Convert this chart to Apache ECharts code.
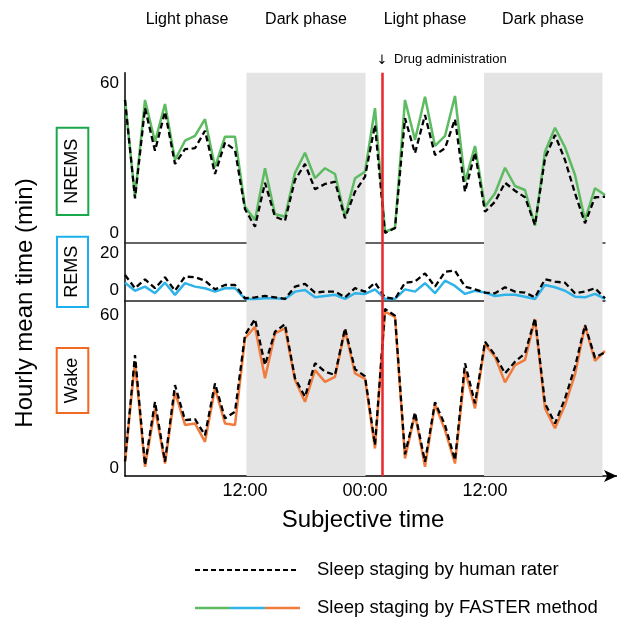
<!DOCTYPE html>
<html>
<head>
<meta charset="UTF-8">
<title>Sleep staging</title>
<script src="https://cdn.jsdelivr.net/npm/echarts@6/dist/echarts.min.js"></script>
<style>
  html, body { margin: 0; padding: 0; background: #fff; }
  #main { width: 617px; height: 621px; }
</style>
</head>
<body>
<div id="main"></div>
<script>
// hourly values, one per hour from the start of the recording (index = hour)
var nremsHuman  = [53.2,13.8,49.9,32.9,48.5,27.6,33.5,33.9,40.9,23.6,36.1,33.2,9.5,2.5,20.1,6.5,4.9,21.2,27.6,17.5,19.6,20.5,5.9,16.5,22.5,
                   43.2,0,2,45.9,31.9,47.2,31.2,33.9,45.5,16.5,32.1,8.5,12.5,20.1,16.9,14.3,3.2,29.9,39.2,29.2,15.9,3.9,14.3,14.5];
var nremsFaster = [53.2,14.5,53.2,36.5,51.6,29.2,36.9,38.8,45.5,26.3,38.5,38.5,10.5,5.2,25.9,7.6,6.5,24.1,32.1,21.9,25.9,23.6,6.5,21.9,24.5,
                   49.9,0.5,2,53.2,37.2,54.5,34.8,38.8,54.8,20.5,34.8,10.5,15.9,26.1,18.8,17.2,2.9,32.5,42.1,34.3,23.2,5.2,17.9,15.2];
var remsHuman   = [10.5,4.7,8.6,4.7,9.5,3.6,9.8,9.5,8,4.2,6.1,6.1,0.3,0.7,1.3,0.7,0,5.4,6.6,2.8,3.2,3.2,0.7,4.7,3.2,
                   7.1,0.7,0,7.1,7.6,11.2,5.4,11.9,12.4,5.4,4.2,2.8,2.5,5.1,3.2,2.8,0.7,8.6,7.6,7.1,2.5,3.2,4.7,0.3];
var remsFaster  = [7.1,3.6,5.4,2.5,7.1,1.8,6.9,5.4,4.7,3.2,4.7,4.7,0,0,0.3,0.3,0,3.2,3.9,0.7,1.3,1.8,0,2.5,2.2,
                   4.2,0,0,4.2,3.2,6.9,2.5,8,5.7,2.2,3.6,2.8,1.3,1.8,1.8,1,0,6.1,5.1,3.6,1,0.7,2.2,0];
var wakeHuman   = [2.5,44.3,1.2,26,2.5,32.5,18.8,19.2,12.9,33.2,19.5,22.1,52.2,58.4,40.4,53.5,56.4,35.2,28,41.1,37.8,36.5,54.8,38.8,36,
                   9,62.4,59.7,5.4,21.8,2.5,25.8,16.9,3.1,41.1,25.4,49.5,44.3,37.1,41.7,45,58.7,25.4,17.5,27.3,39.7,56.1,43.3,45.4];
var wakeFaster  = [2.5,41.7,0.5,23.4,1.8,29.9,16.9,17.5,10.3,31.3,17.5,16.9,50.9,55.4,35.2,52.8,54.8,34.5,26,38.4,33.8,35.8,54.1,37.1,35,
                   7.7,61.3,59.3,3.8,21.1,0.5,25,14.9,1.8,38.4,23.4,48.5,43.6,33.6,40.4,42.4,58.4,23.4,15.6,24.7,36.7,55.8,42,45.9];

// dark phases (hours), drug time, x tick labels
var darkPhases = [[12.15, 24.05], [35.9, 47.75]];
var drugHour = 25.73;
var xTickValues = [12, 24, 36];
var xTickLabels = ['12:00', '00:00', '12:00'];
var phaseLabels = ['Light phase', 'Dark phase', 'Light phase', 'Dark phase'];

var FONT = 'Liberation Sans, Arial, Helvetica, sans-serif';
var GREEN = '#5dbb61', BLUE = '#2fb3e8', ORANGE = '#f07b3d', RED = '#e8262b', GRAY = '#e4e4e4';

function pairs(arr) {
  return arr.map(function (v, i) { return [i, v]; });
}

function shade() {
  return {
    silent: true,
    itemStyle: { color: GRAY },
    data: darkPhases.map(function (p) { return [{ xAxis: p[0] }, { xAxis: p[1] }]; })
  };
}

function drugLine() {
  return {
    silent: true,
    symbol: ['none', 'none'],
    label: { show: false },
    lineStyle: { color: RED, width: 2.5, type: 'solid' },
    data: [{ xAxis: drugHour }]
  };
}

function fasterSeries(idx, data, color) {
  return {
    type: 'line', xAxisIndex: idx, yAxisIndex: idx, data: pairs(data),
    showSymbol: false, z: 3,
    lineStyle: { color: color, width: 2.5 },
    markArea: shade()
  };
}

function humanSeries(idx, data) {
  return {
    type: 'line', xAxisIndex: idx, yAxisIndex: idx, data: pairs(data),
    showSymbol: false, z: 4,
    lineStyle: { color: '#000', width: 2.3, type: [6, 3.5] },
    markLine: drugLine()
  };
}

var yLabel = { color: '#000', fontSize: 17, fontFamily: FONT, margin: 6 };

var myChart = echarts.init(document.getElementById('main'));
var option = {
  animation: false,
  backgroundColor: '#fff',
  grid: [
    { left: 125, top: 72.7, width: 480, height: 170.3 },
    { left: 125, top: 243, width: 480, height: 58 },
    { left: 125, top: 301, width: 492, height: 175 }
  ],
  xAxis: [
    { gridIndex: 0, type: 'value', min: 0, max: 48, splitLine: { show: false },
      axisLine: { show: true, onZero: false, lineStyle: { color: '#333', width: 1.5 } }, axisTick: { show: false }, axisLabel: { show: false } },
    { gridIndex: 1, type: 'value', min: 0, max: 48, splitLine: { show: false },
      axisLine: { show: true, onZero: false, lineStyle: { color: '#222', width: 1.5 } }, axisTick: { show: false }, axisLabel: { show: false } },
    { gridIndex: 2, type: 'value', min: 0, max: 49.2, splitLine: { show: false },
      axisLine: { show: true, onZero: false, symbol: ['none', 'arrow'], symbolSize: [9, 13], lineStyle: { color: '#000', width: 1.5 } },
      axisTick: { show: false },
      axisLabel: {
        customValues: xTickValues, color: '#000', fontSize: 18, fontFamily: FONT, margin: 6,
        formatter: function (v) { return xTickLabels[xTickValues.indexOf(v)] || ''; }
      },
      name: 'Subjective time', nameLocation: 'middle', nameGap: 32,
      nameTextStyle: { color: '#000', fontSize: 24, fontFamily: FONT, padding: [0, 16, 0, 0] }
    }
  ],
  yAxis: [
    { gridIndex: 0, type: 'value', min: -4, max: 64.1, splitLine: { show: false },
      axisLine: { show: true, onZero: false, lineStyle: { color: '#000', width: 1.5 } }, axisTick: { show: false },
      axisLabel: Object.assign({ customValues: [0, 60] }, yLabel) },
    { gridIndex: 1, type: 'value', min: -0.9, max: 24.5, splitLine: { show: false },
      axisLine: { show: true, onZero: false, lineStyle: { color: '#000', width: 1.5 } }, axisTick: { show: false },
      axisLabel: Object.assign({ customValues: [20] }, yLabel) },
    { gridIndex: 2, type: 'value', min: -3.1, max: 65.5, splitLine: { show: false },
      axisLine: { show: true, onZero: false, lineStyle: { color: '#000', width: 1.5 } }, axisTick: { show: false },
      axisLabel: Object.assign({ customValues: [0, 60] }, yLabel) },
    // REMS zero label sits just above the baseline
    { gridIndex: 1, type: 'value', position: 'left', min: -0.9, max: 24.5, splitLine: { show: false },
      axisLine: { show: false }, axisTick: { show: false },
      axisLabel: Object.assign({ customValues: [0], verticalAlign: 'bottom' }, yLabel) }
  ],
  series: [
    fasterSeries(0, nremsFaster, GREEN), humanSeries(0, nremsHuman),
    fasterSeries(1, remsFaster, BLUE), humanSeries(1, remsHuman),
    fasterSeries(2, wakeFaster, ORANGE), humanSeries(2, wakeHuman)
  ],
  graphic: [
    // phase labels
    { type: 'text', x: 187, y: 20, style: { text: phaseLabels[0], font: '16px ' + FONT, fill: '#000', align: 'center', verticalAlign: 'middle' } },
    { type: 'text', x: 306, y: 20, style: { text: phaseLabels[1], font: '16px ' + FONT, fill: '#000', align: 'center', verticalAlign: 'middle' } },
    { type: 'text', x: 425, y: 20, style: { text: phaseLabels[2], font: '16px ' + FONT, fill: '#000', align: 'center', verticalAlign: 'middle' } },
    { type: 'text', x: 543, y: 20, style: { text: phaseLabels[3], font: '16px ' + FONT, fill: '#000', align: 'center', verticalAlign: 'middle' } },
    // drug annotation
    { type: 'text', x: 382, y: 61, style: { text: '↓', font: '13px DejaVu Sans', fill: '#000', align: 'center', verticalAlign: 'middle' } },
    { type: 'text', x: 394, y: 59, style: { text: 'Drug administration', font: '13px ' + FONT, fill: '#000', align: 'left', verticalAlign: 'middle' } },
    // y title
    { type: 'text', x: 25, y: 303, rotation: Math.PI / 2, style: { text: 'Hourly mean time (min)', font: '24px ' + FONT, fill: '#000', align: 'center', verticalAlign: 'middle' } },
    // panel boxes
    { type: 'rect', shape: { x: 56.7, y: 127.7, width: 31.6, height: 87.3 }, style: { fill: '#fff', stroke: '#1aa84c', lineWidth: 2 } },
    { type: 'text', x: 72.5, y: 171.3, rotation: Math.PI / 2, style: { text: 'NREMS', font: '18px ' + FONT, fill: '#000', align: 'center', verticalAlign: 'middle' } },
    { type: 'rect', shape: { x: 57, y: 236.7, width: 31, height: 70.3 }, style: { fill: '#fff', stroke: '#1db0ee', lineWidth: 2 } },
    { type: 'text', x: 72.5, y: 271.8, rotation: Math.PI / 2, style: { text: 'REMS', font: '18px ' + FONT, fill: '#000', align: 'center', verticalAlign: 'middle' } },
    { type: 'rect', shape: { x: 56.7, y: 348, width: 31.6, height: 65 }, style: { fill: '#fff', stroke: '#f06a25', lineWidth: 2 } },
    { type: 'text', x: 72.5, y: 380.5, rotation: Math.PI / 2, style: { text: 'Wake', font: '18px ' + FONT, fill: '#000', align: 'center', verticalAlign: 'middle' } },
    // legend
    { type: 'line', shape: { x1: 195, y1: 570, x2: 299, y2: 570 }, style: { stroke: '#000', lineWidth: 2.2, lineDash: [5, 3] } },
    { type: 'text', x: 317, y: 570, style: { text: 'Sleep staging by human rater', font: '18.5px ' + FONT, fill: '#000', align: 'left', verticalAlign: 'middle' } },
    { type: 'line', shape: { x1: 195, y1: 608, x2: 230, y2: 608 }, style: { stroke: GREEN, lineWidth: 2.5 } },
    { type: 'line', shape: { x1: 230, y1: 608, x2: 265, y2: 608 }, style: { stroke: BLUE, lineWidth: 2.5 } },
    { type: 'line', shape: { x1: 265, y1: 608, x2: 300, y2: 608 }, style: { stroke: ORANGE, lineWidth: 2.5 } },
    { type: 'text', x: 317, y: 608, style: { text: 'Sleep staging by FASTER method', font: '18.5px ' + FONT, fill: '#000', align: 'left', verticalAlign: 'middle' } }
  ]
};
myChart.setOption(option);
</script>
</body>
</html>
